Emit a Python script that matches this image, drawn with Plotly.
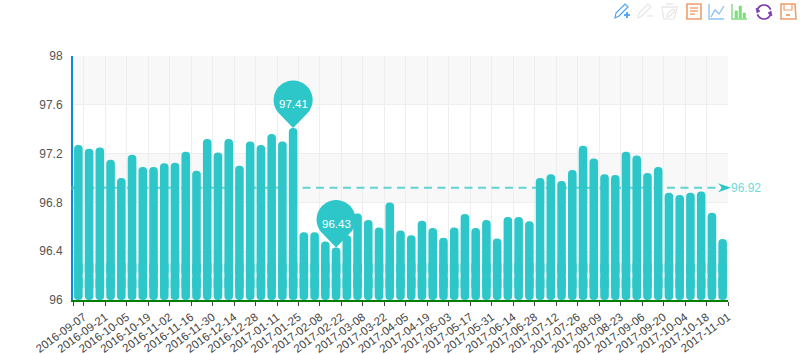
import numpy as np
import plotly.graph_objects as go

categories = [
    "2016-09-07","2016-09-14","2016-09-21","2016-09-28","2016-10-05","2016-10-12","2016-10-19","2016-10-26",
    "2016-11-02","2016-11-09","2016-11-16","2016-11-23","2016-11-30","2016-12-07","2016-12-14","2016-12-21",
    "2016-12-28","2017-01-04","2017-01-11","2017-01-18","2017-01-25","2017-02-01","2017-02-08","2017-02-15",
    "2017-02-22","2017-03-01","2017-03-08","2017-03-15","2017-03-22","2017-03-29","2017-04-05","2017-04-12",
    "2017-04-19","2017-04-26","2017-05-03","2017-05-10","2017-05-17","2017-05-24","2017-05-31","2017-06-07",
    "2017-06-14","2017-06-21","2017-06-28","2017-07-05","2017-07-12","2017-07-19","2017-07-26","2017-08-02",
    "2017-08-09","2017-08-16","2017-08-23","2017-08-30","2017-09-06","2017-09-13","2017-09-20","2017-09-27",
    "2017-10-04","2017-10-11","2017-10-18","2017-10-25","2017-11-01",
]
values = [
    97.27,97.24,97.25,97.15,97.00,97.19,97.09,97.09,97.12,97.125,97.215,97.06,97.32,97.21,97.32,97.10,
    97.30,97.27,97.36,97.30,97.41,96.555,96.555,96.48,96.43,96.53,96.71,96.655,96.595,96.80,96.57,96.53,
    96.65,96.59,96.51,96.595,96.705,96.59,96.655,96.505,96.68,96.68,96.645,97.00,97.03,96.975,97.065,97.265,
    97.16,97.03,97.025,97.215,97.185,97.04,97.09,96.88,96.86,96.88,96.89,96.715,96.50,
]
average = 96.92
y_ticks = [96, 96.4, 96.8, 97.2, 97.6, 98]
y_tick_text = ["96", "96.4", "96.8", "97.2", "97.6", "98"]
grey_bands = [(97.6, 98), (96.8, 97.2), (96, 96.4)]
pins = [("2017-01-25", 97.41, "97.41"), ("2017-02-22", 96.43, "96.43")]

TEAL = "#2ec7c9"
W, H = 800, 354
L, R, T, B = 73, 72, 56, 54
BASE = 96.0
MID = 96.2

fig = go.Figure()
# Overlaid pieces so that both the top and the bottom of every bar are round
fig.add_bar(x=categories, y=[v - MID for v in values], base=MID, marker=dict(color=TEAL, cornerradius=4, line_width=0),
            width=0.8, hoverinfo="skip", showlegend=False)
fig.add_bar(x=categories, y=[BASE - MID] * len(categories), base=MID, marker=dict(color=TEAL, cornerradius=4, line_width=0),
            width=0.8, hoverinfo="skip", showlegend=False)
fig.add_bar(x=categories, y=[0.2] * len(categories), base=MID - 0.1, marker=dict(color=TEAL, line_width=0),
            width=0.8, hoverinfo="skip", showlegend=False)

shapes = []
for lo, hi in grey_bands:
    shapes.append(dict(type="rect", xref="paper", yref="y", x0=0, x1=1, y0=lo, y1=hi,
                       fillcolor="#f8f8f8", line_width=0, layer="below"))

# Average line, start dot and arrow head
shapes.append(dict(type="line", xref="paper", yref="y", x0=0, x1=1, y0=average, y1=average,
                   line=dict(color=TEAL, width=2, dash="8px,5.5px"), opacity=0.75, layer="above"))
shapes.append(dict(type="circle", xref="paper", yref="y", xsizemode="pixel", ysizemode="pixel", xanchor=0, yanchor=average,
                   x0=-2, x1=2, y0=-2, y1=2, fillcolor=TEAL, opacity=0.75, line_width=0))
shapes.append(dict(type="path", xref="paper", yref="y", xsizemode="pixel", ysizemode="pixel", xanchor=1, yanchor=average,
                   path="M 3 0 L -10 4.5 L -6 0 L -10 -4.5 Z", fillcolor=TEAL, line_width=0))

# Pins
ang = np.radians(np.linspace(-44, 224, 48))
pin_path = "M 0 0 " + " ".join(f"L {19.5*np.cos(a):.2f} {28+19.5*np.sin(a):.2f}" for a in ang) + " Z"
annotations = []
for cat, val, txt in pins:
    shapes.append(dict(type="path", xref="x", yref="y", xsizemode="pixel", ysizemode="pixel", xanchor=cat, yanchor=val,
                       path=pin_path, fillcolor=TEAL, line_width=0, layer="above"))
    annotations.append(dict(x=cat, y=val, yshift=24, text=txt, showarrow=False, xref="x", yref="y",
                            font=dict(color="white", size=11.5, family="Liberation Sans, Arial")))
annotations.append(dict(x=1, y=average, xref="paper", yref="y", xanchor="left", xshift=1, text=f"{average}", showarrow=False,
                        font=dict(color="#6fdadb", size=12, family="Liberation Sans, Arial")))


# Toolbox icons: absolute page pixels, converted to offsets from the plot's top-left corner
def icon(points, color, width=1.2, fill=None, closed=False):
    path = "M " + " L ".join(f"{x-L:.1f} {T-y:.1f}" for x, y in points) + (" Z" if closed else "")
    shapes.append(dict(type="path", xref="paper", yref="paper", xsizemode="pixel", ysizemode="pixel", xanchor=0, yanchor=1,
                       path=path, line=dict(color=color, width=width), fillcolor=fill or "rgba(0,0,0,0)"))


BLUE, GREY, ORANGE, LBLUE, GREEN, PURPLE = "#4aa3f5", "#e6e6e6", "#ef9f6b", "#8ec4f4", "#7fdc7f", "#7a35b5"
# pen +
icon([(615, 18), (616, 13), (625, 4), (628, 7), (619, 16)], BLUE, closed=True)
icon([(624, 15), (630, 15)], BLUE, 1.8)
icon([(627, 12), (627, 18)], BLUE, 1.8)
# pen -
icon([(638, 18), (639, 13), (648, 4), (651, 7), (642, 16)], GREY, closed=True)
icon([(647, 16), (653, 16)], GREY, 1.2)
# bucket
icon([(662, 8), (664, 19), (674, 19), (677, 8)], GREY)
icon([(661, 7), (678, 7)], GREY, 1.4)
icon([(666, 4), (673, 4)], GREY, 1.4)
icon([(667, 17), (668, 13), (673, 9), (675, 11), (670, 16)], GREY, closed=True)
# data view
icon([(687, 4), (701, 4), (701, 19), (687, 19)], ORANGE, 1.6, closed=True)
icon([(690, 8), (698, 8)], ORANGE, 1.4)
icon([(690, 11), (698, 11)], ORANGE, 1.4)
icon([(690, 14), (695, 14)], ORANGE, 1.4)
# line chart
icon([(709, 4), (709, 19), (724, 19)], LBLUE, 1.4)
icon([(711, 17), (715, 10), (719, 14), (724, 6)], LBLUE, 1.4)
# bar chart
icon([(732, 4), (732, 19), (747, 19)], GREEN, 1.4)
for x0, top in [(735, 11), (739, 6), (743, 13)]:
    icon([(x0, 18), (x0, top), (x0 + 2.5, top), (x0 + 2.5, 18)], GREEN, 0.6, GREEN, True)
# refresh
a1 = np.radians(np.linspace(20, 160, 14))
a2 = np.radians(np.linspace(200, 340, 14))
icon([(764 + 7 * np.cos(a), 12 - 7 * np.sin(a)) for a in a1], PURPLE, 1.7)
icon([(764 + 7 * np.cos(a), 12 - 7 * np.sin(a)) for a in a2], PURPLE, 1.7)
icon([(756, 8), (757, 13), (760, 11)], PURPLE, 0.6, PURPLE, True)
icon([(772, 16), (771, 11), (768, 13)], PURPLE, 0.6, PURPLE, True)
# save
icon([(781, 4), (795, 4), (796, 19), (781, 19)], ORANGE, 1.6, closed=True)
icon([(784, 4), (784, 10), (792, 10), (792, 4)], ORANGE, 1.2)
icon([(786, 15), (790, 15)], ORANGE, 1.8)

tick_positions = [-0.5] + [i + 0.5 for i in range(0, len(categories), 2)]
tick_labels = [""] + categories[0::2]

fig.update_layout(
    width=W, height=H, margin=dict(l=L, r=R, t=T, b=B, pad=0), autosize=False,
    paper_bgcolor="white", plot_bgcolor="white", barmode="overlay", bargap=0.2, showlegend=False,
    font=dict(family="Liberation Sans, Arial", color="#555555", size=12),
    shapes=shapes, annotations=annotations,
    xaxis=dict(type="category", categoryorder="array", categoryarray=categories, range=[-0.5, len(categories) - 0.5],
               tickmode="array", tickvals=tick_positions, ticktext=tick_labels, tickangle=-36, automargin=False,
               ticks="outside", ticklen=4, tickcolor="#444444", tickwidth=1, showline=True, linecolor="#008000", linewidth=2,
               showgrid=True, gridcolor="#eeeeee", gridwidth=1, zeroline=False, tickfont=dict(size=11.5, color="#444444")),
    yaxis=dict(range=[96, 98], tickmode="array", tickvals=y_ticks, ticktext=y_tick_text, ticks="", showline=True, automargin=False,
               linecolor="#0a8ad6", linewidth=2, showgrid=True, gridcolor="#eeeeee", gridwidth=1, zeroline=False,
               ticklabelstandoff=6, tickfont=dict(size=12, color="#555555")),
)
fig.write_html("out.html", config=dict(displayModeBar=False),
               post_script="document.body.style.margin='0';document.body.style.overflow='hidden';")
